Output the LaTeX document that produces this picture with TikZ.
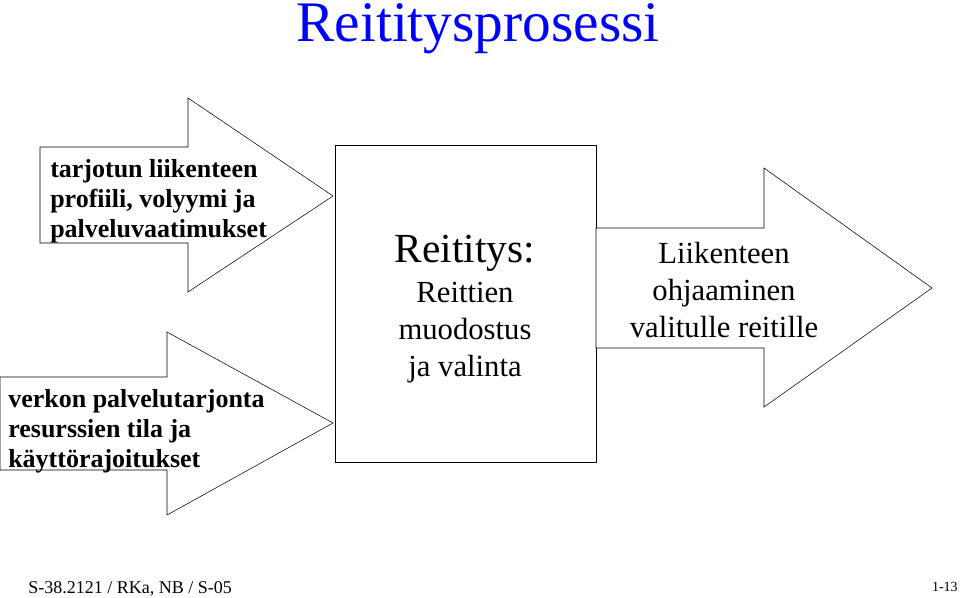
\documentclass[tikz,border=0pt]{standalone}
\usepackage{fontspec}
\setmainfont{Liberation Serif}
\begin{document}
\begin{tikzpicture}[x=0.75pt,y=0.75pt,yscale=-1,xscale=1]
\tikzset{inlbl/.style={anchor=base west,inner sep=0pt,font=\fontsize{19.5}{23}\selectfont\bfseries}}
\useasboundingbox (0,0) rectangle (960,597);
% Title
\node (title) at (478,41) [anchor=base,inner sep=0pt,text=blue,font=\fontsize{43}{45}\selectfont] {Reititysprosessi};
% Input arrows
\draw [fill=white] (40,147) -- (188,147) -- (188,98) -- (333,196) -- (188,292) -- (188,243) -- (40,243) -- cycle;
\draw [fill=white] (0,377) -- (167,377) -- (167,332) -- (333,423) -- (167,515) -- (167,470) -- (0,470) -- cycle;
% Center box
\draw (335,145) rectangle (596,462);
% Output arrow
\draw [fill=white] (596,228) -- (764,228) -- (764,168) -- (932,288) -- (764,407) -- (764,348) -- (596,348) -- cycle;
% Text Node
\node (in1a) at (50,177) [inlbl] {tarjotun liikenteen};
\node (in1b) at (50,207) [inlbl] {profiili, volyymi ja};
\node (in1c) at (50,237) [inlbl] {palveluvaatimukset};
\node (in2a) at (8,407) [inlbl] {verkon palvelutarjonta};
\node (in2b) at (8,437) [inlbl] {resurssien tila ja};
\node (in2c) at (8,467) [inlbl] {käyttörajoitukset};
% Text Node
\node (box) at (465,262) [anchor=base,inner sep=0pt,font=\fontsize{31}{34}\selectfont] {Reititys:};
\node (boxb) at (465,302) [anchor=base,inner sep=0pt,font=\fontsize{23}{27}\selectfont] {Reittien};
\node (boxc) at (465,339) [anchor=base,inner sep=0pt,font=\fontsize{23}{27}\selectfont] {muodostus};
\node (boxd) at (465,376) [anchor=base,inner sep=0pt,font=\fontsize{23}{27}\selectfont] {ja valinta};
\node (out) at (724,290) [align=center,font=\fontsize{23}{28}\selectfont] {Liikenteen\\ohjaaminen\\valitulle reitille};
% Footer
\node (foot) at (28,593) [anchor=base west,inner sep=0pt,font=\fontsize{13.5}{16}\selectfont] {S-38.2121 / RKa, NB / S-05};
\node (page) at (958,591) [anchor=base east,inner sep=0pt,font=\fontsize{10.5}{12}\selectfont] {1-13};
\end{tikzpicture}
\end{document}
